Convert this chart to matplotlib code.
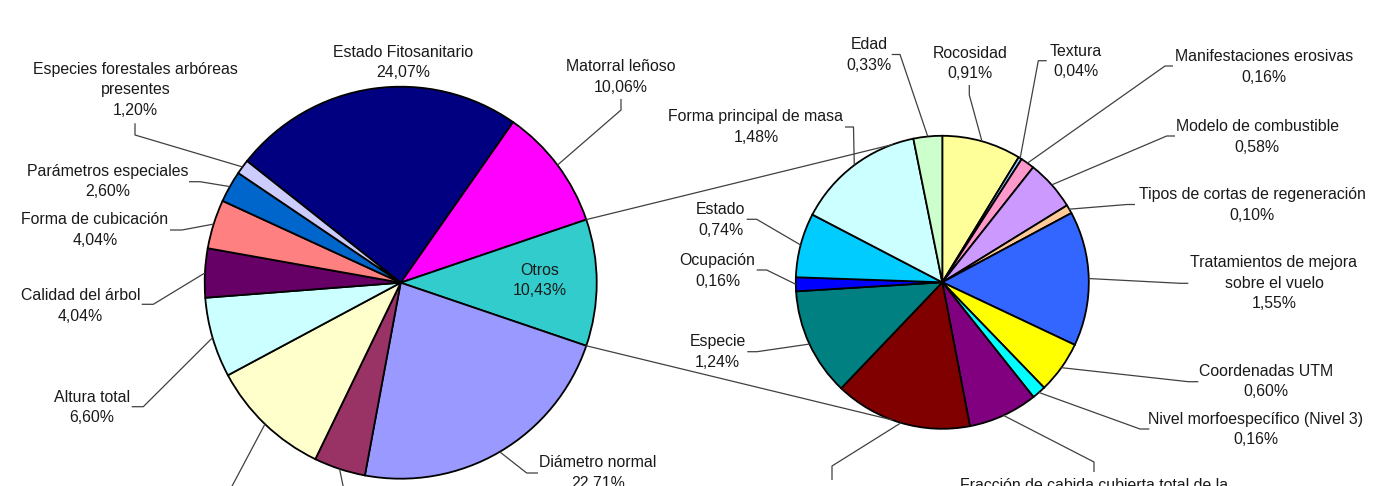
import matplotlib
matplotlib.use("Agg")
import matplotlib.pyplot as plt
import numpy as np

# ---------------------------------------------------------------------------
# Data
# ---------------------------------------------------------------------------
main_labels = ["Estado Fitosanitario", "Matorral leñoso", "Otros", "Diámetro normal",
               "", "", "Altura total", "Calidad del árbol", "Forma de cubicación",
               "Parámetros especiales", "Especies forestales arbóreas\npresentes"]
main_values = [24.07, 10.06, 10.43, 22.71, 4.25, 10.00, 6.60, 4.04, 4.04, 2.60, 1.20]
main_colors = ["#000080", "#FF00FF", "#33CCCC", "#9999FF", "#993366", "#FFFFCC",
               "#CCFFFF", "#660066", "#FF8080", "#0066CC", "#CCCCFF"]

other_labels = ["Rocosidad", "Textura", "Manifestaciones erosivas", "Modelo de combustible",
                "Tipos de cortas de regeneración", "Tratamientos de mejora\nsobre el vuelo",
                "Coordenadas UTM", "Nivel morfoespecífico (Nivel 3)",
                "Fracción de cabida cubierta total de la", "", "Especie", "Ocupación",
                "Estado", "Forma principal de masa", "Edad"]
other_values = [0.91, 0.04, 0.16, 0.58, 0.10, 1.55, 0.60, 0.16, 0.80, 1.58,
                1.24, 0.16, 0.74, 1.48, 0.33]
other_colors = ["#FFFF99", "#99CCFF", "#FF99CC", "#CC99FF", "#FFCC99", "#3366FF",
                "#FFFF00", "#00FFFF", "#800080", "#800000", "#008080", "#0000FF",
                "#00CCFF", "#CCFFFF", "#CCFFCC"]

# ---------------------------------------------------------------------------
# Layout (pixel coordinates, y measured from the top)
# ---------------------------------------------------------------------------
W, H = 1399, 486
MAIN_C, MAIN_R = (400.7, 282.7), 196.0
OTHER_C, OTHER_R = (942.3, 282.3), 146.5
LINK_ANGLE = 110.0

# label block centres and leader elbows for the main pie
main_text_pos = [(403.5, 62.7), (621, 77), (540, 280.7), (598, 473), None, None,
                 (92, 407.7), (80.5, 306), (95, 230), (107.8, 181.7), (135.3, 90)]
main_leaders = [None, [(621, 99), (621, 110)], None, [(538, 473), (526.7, 473)],
                [(346, 500)], [(222, 505)],
                [(131.7, 406.7), (143.3, 406.7)], [(141.7, 304.3), (153.3, 304.3)],
                [(170, 230), (182, 230)], [(189, 181.7), (200, 181.7)],
                [(135, 123.3), (135, 135)]]

other_text_pos = [(970, 63.3), (1075.8, 61.7), (1264, 67), (1257, 137), (1252, 205),
                  (1274, 283.3), (1266, 381.7), (1256, 429.3), (1094, 489.5), None,
                  (717.5, 352), (717.5, 271), (720.8, 220), (756, 127), (869, 55)]
other_leaders = [[(969.3, 85), (969.3, 95)], [(1046.7, 60.7), (1038.3, 60.7)],
                 [(1173, 66), (1165, 66)], [(1175, 136), (1166.7, 136)],
                 [(1135, 204.5), (1127, 204.5)], [(1188.3, 283.3), (1180, 283.3)],
                 [(1198.3, 381.7), (1188.3, 381.7)], [(1149.3, 429), (1140, 429)],
                 [(1094, 472), (1094, 462)], [(832, 480), (832, 466)],
                 [(747.3, 351.7), (757, 351.7)], [(756.7, 270), (766.7, 270)],
                 [(746.7, 219.3), (756.7, 219.3)], [(845, 127), (853.5, 127)],
                 [(891.7, 54.5), (900, 54.5)]]

FONT = "Liberation Sans"
FS = 11.4
LS = 1.46
TEXT_COLOR = "#1a1a1a"
LINE_COLOR = "#404040"


def dpt(p):
    return (p[0], H - p[1])


def pct(v):
    return f"{v:.2f}".replace(".", ",") + "%"


def edge(center, r, ang):
    cx, cy = dpt(center)
    a = np.radians(ang)
    return (cx + r * np.cos(a), cy + r * np.sin(a))


fig = plt.figure(figsize=(W / 100, H / 100), dpi=100)
ax = fig.add_axes([0, 0, 1, 1])

wedge_style = dict(edgecolor="black", linewidth=1.3)

# main pie: the "Otros" slice is centred on the horizontal axis
total = sum(main_values)
k = main_labels.index("Otros")
start = 360.0 * (sum(main_values[:k]) + main_values[k] / 2) / total
main_wedges, _ = ax.pie(main_values, colors=main_colors, startangle=start,
                        counterclock=False, center=dpt(MAIN_C), radius=MAIN_R,
                        wedgeprops=wedge_style)

other_wedges, _ = ax.pie(other_values, colors=other_colors, startangle=90,
                         counterclock=False, center=dpt(OTHER_C), radius=OTHER_R,
                         wedgeprops=wedge_style)


def mid(w):
    return (w.theta1 + w.theta2) / 2


def draw_labels(wedges, labels, values, positions, leaders, center, r):
    for w, name, v, pos, lead in zip(wedges, labels, values, positions, leaders):
        if lead is not None:
            pts = [dpt(p) for p in lead] + [edge(center, r, mid(w))]
            xs, ys = zip(*pts)
            ax.plot(xs, ys, color=LINE_COLOR, lw=0.9, solid_capstyle="butt", zorder=1)
        if pos is None or not name:
            continue
        x, y = dpt(pos)
        if pos[1] > H:
            ax.text(x, y, name, ha="center", va="baseline", fontsize=FS,
                    family=FONT, color=TEXT_COLOR)
        else:
            ax.text(x, y, f"{name}\n{pct(v)}", ha="center", va="center",
                    multialignment="center", fontsize=FS, linespacing=LS,
                    family=FONT, color=TEXT_COLOR)


draw_labels(main_wedges, main_labels, main_values, main_text_pos, main_leaders,
            MAIN_C, MAIN_R)
draw_labels(other_wedges, other_labels, other_values, other_text_pos, other_leaders,
            OTHER_C, OTHER_R)

# connector lines from the "Otros" slice to the breakdown pie
ow = main_wedges[k]
for a_main, a_other in ((ow.theta2, LINK_ANGLE), (ow.theta1, -LINK_ANGLE)):
    p1 = edge(MAIN_C, MAIN_R, a_main)
    p2 = edge(OTHER_C, OTHER_R, a_other)
    ax.plot([p1[0], p2[0]], [p1[1], p2[1]], color=LINE_COLOR, lw=0.9, zorder=1)

ax.set_xlim(0, W)
ax.set_ylim(0, H)
ax.set_aspect("equal")
ax.axis("off")

fig.savefig("out.png", dpi=100, facecolor="white")
